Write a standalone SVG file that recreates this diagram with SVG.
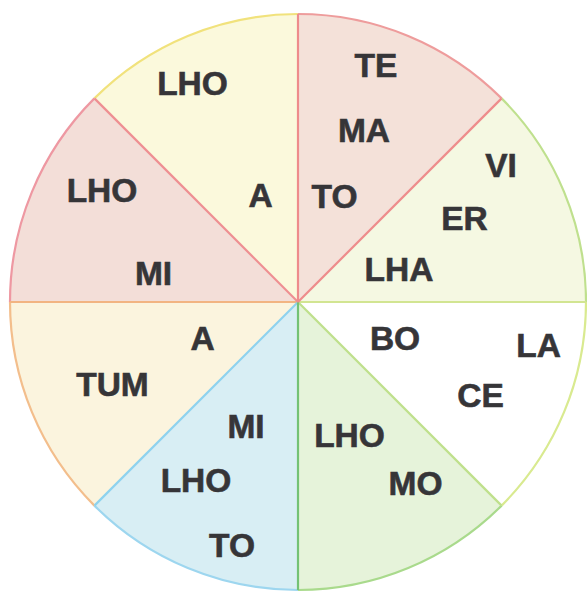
<svg xmlns="http://www.w3.org/2000/svg" width="587" height="592" viewBox="0 0 587 592">
<style>
text{font-family:"Liberation Sans",Arial,Helvetica,sans-serif;font-weight:bold;font-size:33.5px;fill:#363538;stroke:#363538;stroke-width:0.6;text-anchor:middle}
.arc{fill:none;stroke-width:2.2}
.ray{stroke-width:2.2;fill:none}
</style>
<rect width="587" height="592" fill="#ffffff"/>
<g id="sector-te-ma-to">
<path d="M298 302 L298 14 A288 288 0 0 1 501.6 98.4 Z" fill="#f4e1d9"/>
<path class="arc" d="M298 14 A288 288 0 0 1 501.6 98.4" stroke="#ee9c9c"/>
<text x="376" y="77">TE</text><text x="364" y="142">MA</text><text x="334.5" y="208">TO</text>
</g>
<g id="sector-vi-er-lha">
<path d="M298 302 L501.6 98.4 A288 288 0 0 1 586 302 Z" fill="#f5f8e2"/>
<path class="arc" d="M501.6 98.4 A288 288 0 0 1 586 302" stroke="#bfe08e"/>
<text x="501" y="177">VI</text><text x="464.5" y="230">ER</text><text x="399" y="281">LHA</text>
</g>
<g id="sector-bo-la-ce">
<path d="M298 302 L586 302 A288 288 0 0 1 501.6 505.6 Z" fill="#ffffff"/>
<path class="arc" d="M586 302 A288 288 0 0 1 501.6 505.6" stroke="#d9ea90"/>
<text x="395" y="350">BO</text><text x="538.5" y="357">LA</text><text x="480.5" y="407">CE</text>
</g>
<g id="sector-lho-mo">
<path d="M298 302 L501.6 505.6 A288 288 0 0 1 298 590 Z" fill="#e6f3da"/>
<path class="arc" d="M501.6 505.6 A288 288 0 0 1 298 590" stroke="#a9da8c"/>
<text x="349.5" y="447">LHO</text><text x="415.5" y="495">MO</text>
</g>
<g id="sector-mi-lho-to">
<path d="M298 302 L298 590 A288 288 0 0 1 94.4 505.6 Z" fill="#d8eef4"/>
<path class="arc" d="M298 590 A288 288 0 0 1 94.4 505.6" stroke="#9dd6ef"/>
<text x="246" y="438">MI</text><text x="196" y="492">LHO</text><text x="232" y="557">TO</text>
</g>
<g id="sector-a-tum">
<path d="M298 302 L94.4 505.6 A288 288 0 0 1 10 302 Z" fill="#fbf4de"/>
<path class="arc" d="M94.4 505.6 A288 288 0 0 1 10 302" stroke="#f3be8c"/>
<text x="202.5" y="350">A</text><text x="112.5" y="396">TUM</text>
</g>
<g id="sector-lho-mi">
<path d="M298 302 L10 302 A288 288 0 0 1 94.4 98.4 Z" fill="#f3ded8"/>
<path class="arc" d="M10 302 A288 288 0 0 1 94.4 98.4" stroke="#ee98a2"/>
<text x="102" y="202">LHO</text><text x="153.5" y="285">MI</text>
</g>
<g id="sector-lho-a">
<path d="M298 302 L94.4 98.4 A288 288 0 0 1 298 14 Z" fill="#fbf9dc"/>
<path class="arc" d="M94.4 98.4 A288 288 0 0 1 298 14" stroke="#f1e27c"/>
<text x="192.5" y="95">LHO</text><text x="260.5" y="207">A</text>
</g>
<g id="dividers">
<line class="ray" x1="298" y1="302" x2="10" y2="302" stroke="#f2b482"/>
<line class="ray" x1="298" y1="302" x2="586" y2="302" stroke="#d2e592"/>
<line class="ray" x1="298" y1="302" x2="94.4" y2="505.6" stroke="#8ed2ee"/>
<line class="ray" x1="298" y1="302" x2="501.6" y2="505.6" stroke="#bfe08c"/>
<line class="ray" x1="298" y1="302" x2="298" y2="590" stroke="#74c274"/>
<line class="ray" x1="298" y1="302" x2="94.4" y2="98.4" stroke="#ee8f92"/>
<line class="ray" x1="298" y1="302" x2="501.6" y2="98.4" stroke="#ee8c8c"/>
<line class="ray" x1="298" y1="302" x2="298" y2="14" stroke="#ee8c8c"/>
</g>
</svg>
